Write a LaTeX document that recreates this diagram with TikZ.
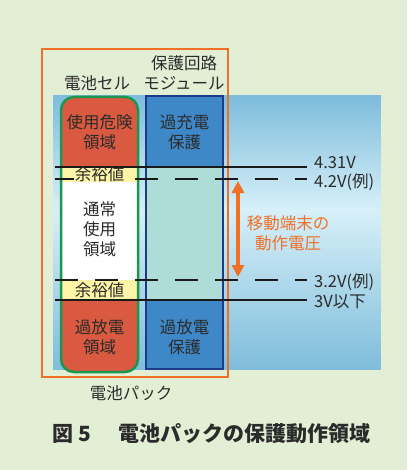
\documentclass[tikz,border=0pt]{standalone}
\usepackage{fontspec}
\setmainfont{Noto Sans CJK JP}
\usetikzlibrary{arrows.meta}
\definecolor{bgc}{HTML}{E3EFD5}
\definecolor{gtop}{HTML}{7DBCDC}
\definecolor{gmid}{HTML}{D6EFF8}
\definecolor{gbot}{HTML}{7FBDDB}
\definecolor{orangec}{HTML}{F07028}
\definecolor{redc}{HTML}{D95A40}
\definecolor{greenc}{HTML}{1A9850}
\definecolor{modblue}{HTML}{3F88C8}
\definecolor{navyc}{HTML}{1E3A8C}
\definecolor{tealc}{HTML}{AEDDD8}
\definecolor{yelc}{HTML}{FFF5A8}
\definecolor{txtc}{HTML}{2B2B2B}
\definecolor{linec}{HTML}{1A1A1A}
\tikzset{
  lbl/.style={text=txtc, font=\fontsize{16.5}{20}\selectfont, align=center, inner sep=0pt},
  vlbl/.style={text=txtc, font=\fontsize{16.5}{20}\selectfont, anchor=west, inner sep=0pt},
  olbl/.style={text=orangec, font=\fontsize{16.5}{20}\selectfont, align=center, inner sep=0pt},
  solidlvl/.style={draw=linec, line width=1.8pt},
  dashlvl/.style={draw=linec, line width=1.8pt, dash pattern=on 23pt off 17pt},
  yellbl/.style={lbl, fill=yelc, text height=10pt, text depth=2pt, inner xsep=1pt, inner ysep=0.5pt},
}
\begin{document}
\begin{tikzpicture}[x=1pt,y=-1pt]
\useasboundingbox (0,0) rectangle (407,470);
\fill[bgc] (0,0) rectangle (407,470);
% gradient panel (strips)
\foreach \i in {0,...,45} {
  \pgfmathsetmacro{\p}{100*\i/45}
  \fill[gmid!\p!gtop] (53,{95+2.5*\i}) rectangle (381,{95+2.5*\i+2.7});
}
\foreach \i in {0,...,63} {
  \pgfmathsetmacro{\p}{100*\i/63}
  \fill[gbot!\p!gmid] (53,{210+2.5*\i}) rectangle (381,{min(210+2.5*\i+2.7,370)});
}
% battery pack frame
\draw[orangec, line width=2pt] (42,49) rectangle (228,377);
% cell
\fill[redc, rounded corners=13pt] (61,97) rectangle (138,372);
\fill[white] (61,167) rectangle (138,300);
\fill[yelc] (61,167) rectangle (138,182);
\fill[yelc] (61,280) rectangle (138,300);
\draw[greenc, line width=2.5pt, rounded corners=13pt] (61,97) rectangle (138,372);
% module
\fill[modblue] (146,96) rectangle (223,369);
\fill[tealc] (146,167) rectangle (223,300);
\draw[navyc, line width=2pt] (146,96) rectangle (223,369);
% level lines
\coordinate (a1) at (55,167); \coordinate (b1) at (307,167);
\coordinate (a2) at (55,179); \coordinate (b2) at (307,179);
\coordinate (a3) at (55,280); \coordinate (b3) at (307,280);
\coordinate (a4) at (55,300); \coordinate (b4) at (307,300);
\draw[solidlvl] (a1) -- (b1);
\draw[dashlvl] (a2) -- (b2);
\draw[dashlvl] (a3) -- (b3);
\draw[solidlvl] (a4) -- (b4);
% labels
\node[lbl] (cellt) at (97,83) {電池セル};
\node[lbl] (modt) at (184,73) {保護回路\\モジュール};
\node[lbl] (danger) at (99.5,132) {使用危険\\領域};
\node[lbl] (ovc) at (184.5,132) {過充電\\保護};
\node[yellbl] (m1) at (99.5,176) {余裕値};
\node[lbl] (normal) at (99.5,229) {通常\\使用\\領域};
\node[lbl] (m2) at (99.5,290) {余裕値};
\node[lbl] (ovd) at (99.5,337) {過放電\\領域};
\node[lbl] (ovdp) at (184.5,337) {過放電\\保護};
\node[lbl] (pack) at (131,393) {電池パック};
\node[vlbl] (v1) at (314,163) {4.31V};
\node[vlbl] (v2) at (314,182) {4.2V(例)};
\node[vlbl] (v3) at (314,282) {3.2V(例)};
\node[vlbl] (v4) at (314,302) {3V以下};
% arrow
\coordinate (ar1) at (238,181);
\coordinate (ar2) at (238,277);
\draw[orangec, line width=4pt, {Triangle[width=12pt,length=12pt]}-{Triangle[width=12pt,length=12pt]}] (ar1) -- (ar2);
\node[olbl] (mob) at (288,233) {移動端末の\\動作電圧};
% title
\node[text=txtc, font=\fontsize{21}{24}\selectfont\bfseries, anchor=west, inner sep=0pt] (title) at (52,434) {図\hspace{5pt}5\hspace{28pt}電池パックの保護動作領域};
\end{tikzpicture}
\end{document}
